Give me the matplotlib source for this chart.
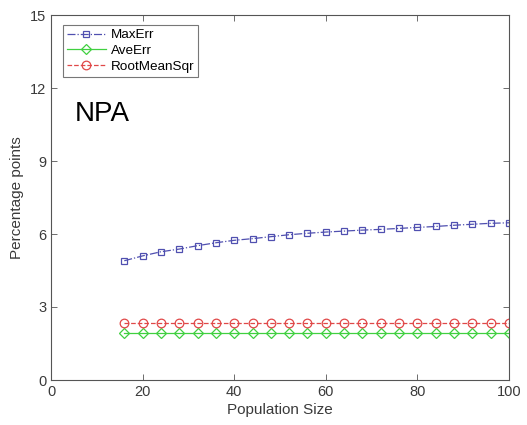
import matplotlib
matplotlib.use("Agg")
import matplotlib.pyplot as plt

plt.rcParams['font.family'] = ['Liberation Sans', 'DejaVu Sans']

# Population sizes and error metrics (percentage points)
population = [16, 20, 24, 28, 32, 36, 40, 44, 48, 52, 56, 60, 64, 68, 72, 76, 80, 84, 88, 92, 96, 100]
max_err = [4.90, 5.10, 5.27, 5.38, 5.52, 5.64, 5.74, 5.81, 5.89, 5.97, 6.03, 6.08,
           6.12, 6.16, 6.19, 6.23, 6.27, 6.31, 6.36, 6.40, 6.44, 6.46]
ave_err = [1.92] * 22
rms_err = [2.36] * 22

x_ticks = [0, 20, 40, 60, 80, 100]
y_ticks = [0, 3, 6, 9, 12, 15]

fig = plt.figure(figsize=(5.27, 4.25), dpi=100)
ax = fig.add_axes([51 / 527, 1 - 380 / 425, 458 / 527, 365 / 425])

axis_gray = '#555555'
ax.plot(population, max_err, linestyle='-.', color='#5050b0', marker='s',
        markersize=4.6, markerfacecolor='none', markeredgecolor='#5050b0',
        markeredgewidth=0.9, linewidth=0.9, label='MaxErr')
ax.plot(population, ave_err, linestyle='-', color='#40d040', marker='D',
        markersize=5, markerfacecolor='none', markeredgecolor='#40d040',
        markeredgewidth=0.9, linewidth=0.9, label='AveErr')
ax.plot(population, rms_err, linestyle='--', color='#e04848', marker='o',
        markersize=6.2, markerfacecolor='none', markeredgecolor='#e04848',
        markeredgewidth=0.9, linewidth=0.9, label='RootMeanSqr')

ax.set_xlim(0, 100)
ax.set_ylim(0, 15)
ax.set_xticks(x_ticks)
ax.set_yticks(y_ticks)
ax.tick_params(direction='in', top=True, right=True, length=4, width=0.6,
               colors=axis_gray, labelsize=10.5, labelcolor='#3a3a3a')
for sp in ax.spines.values():
    sp.set_color(axis_gray)
    sp.set_linewidth(0.8)

ax.set_xlabel('Population Size', fontsize=11, color='#3a3a3a', labelpad=3)
ax.set_ylabel('Percentage points', fontsize=11, color='#3a3a3a', labelpad=4)

ax.text(0.052, 0.71, 'NPA', transform=ax.transAxes, fontsize=20, color='black')

leg = ax.legend(loc='upper left', bbox_to_anchor=(0.026, 0.973), fontsize=9.7,
                frameon=True, fancybox=False, edgecolor='#555555',
                borderpad=0.3, labelspacing=0.25, handlelength=2.9,
                handletextpad=0.35, borderaxespad=0.0)
leg.get_frame().set_linewidth(0.8)

fig.savefig('out.png', dpi=100)
